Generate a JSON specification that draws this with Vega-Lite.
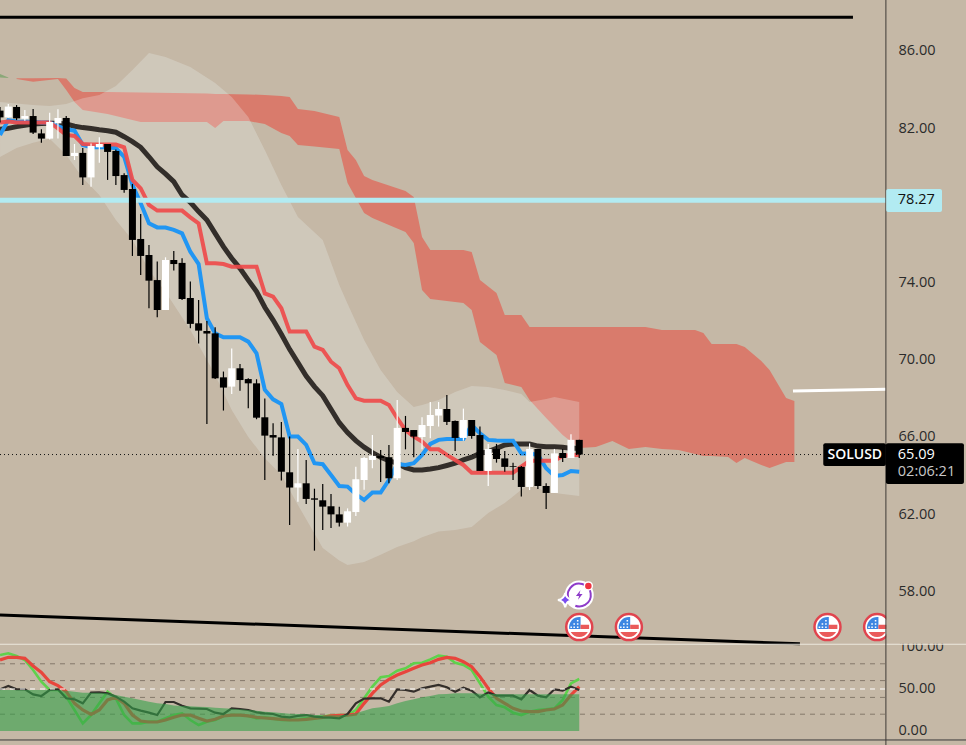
{
"$schema":"https://vega.github.io/schema/vega-lite/v6.json",
"width":966,"height":745,"padding":0,"autosize":{"type":"none"},"background":"#c5b8a6",
"config":{"view":{"stroke":null},"font":"Open Sans"},
"datasets":{
"candles":[
{"i":-1,"o":82.91,"h":83.1,"l":82.3,"c":82.56,"d":"d"},{"i":0,"o":82.56,"h":83.25,"l":82.56,"c":83.12,"d":"u"},{"i":1,"o":83.1,"h":83.2,"l":82.42,"c":82.51,"d":"d"},{"i":2,"o":82.49,"h":82.94,"l":82.39,"c":82.63,"d":"u"},{"i":3,"o":82.63,"h":83.0,"l":81.7,"c":81.77,"d":"d"},{"i":4,"o":81.73,"h":81.94,"l":81.25,"c":81.46,"d":"d"},{"i":5,"o":81.46,"h":82.8,"l":81.42,"c":82.32,"d":"u"},{"i":6,"o":82.25,"h":82.98,"l":81.47,"c":82.53,"d":"u"},{"i":7,"o":82.53,"h":82.63,"l":80.56,"c":80.56,"d":"d"},{"i":8,"o":80.56,"h":81.18,"l":80.35,"c":80.72,"d":"u"},{"i":9,"o":80.72,"h":80.97,"l":79.06,"c":79.45,"d":"d"},{"i":10,"o":79.45,"h":81.21,"l":78.97,"c":81.08,"d":"u"},{"i":11,"o":81.01,"h":81.53,"l":80.21,"c":81.18,"d":"u"},{"i":12,"o":81.18,"h":81.18,"l":79.32,"c":80.77,"d":"d"},{"i":13,"o":80.82,"h":80.9,"l":79.06,"c":79.52,"d":"d"},{"i":14,"o":79.57,"h":79.66,"l":78.66,"c":78.8,"d":"d"},{"i":15,"o":78.85,"h":79.11,"l":75.38,"c":76.21,"d":"d"},{"i":16,"o":76.26,"h":77.55,"l":74.39,"c":75.38,"d":"d"},{"i":17,"o":75.43,"h":75.95,"l":72.67,"c":74.1,"d":"d"},{"i":18,"o":74.13,"h":75.09,"l":72.2,"c":72.58,"d":"d"},{"i":19,"o":72.58,"h":75.31,"l":72.58,"c":75.17,"d":"u"},{"i":20,"o":75.17,"h":75.64,"l":74.62,"c":74.96,"d":"d"},{"i":21,"o":75.02,"h":75.26,"l":73.1,"c":73.15,"d":"d"},{"i":22,"o":73.2,"h":74.05,"l":71.63,"c":71.86,"d":"d"},{"i":23,"o":71.89,"h":73.1,"l":70.85,"c":71.51,"d":"d"},{"i":24,"o":71.49,"h":72.01,"l":66.67,"c":71.36,"d":"d"},{"i":25,"o":71.37,"h":71.68,"l":69.0,"c":69.04,"d":"d"},{"i":26,"o":69.09,"h":69.39,"l":67.37,"c":68.56,"d":"d"},{"i":27,"o":68.61,"h":70.59,"l":68.23,"c":69.56,"d":"u"},{"i":28,"o":69.56,"h":69.78,"l":68.4,"c":68.95,"d":"d"},{"i":29,"o":69.0,"h":69.04,"l":67.49,"c":68.78,"d":"d"},{"i":30,"o":68.78,"h":68.99,"l":66.92,"c":67.0,"d":"d"},{"i":31,"o":67.02,"h":68.0,"l":63.77,"c":66.07,"d":"d"},{"i":32,"o":66.1,"h":66.71,"l":65.03,"c":65.97,"d":"d"},{"i":33,"o":65.98,"h":66.78,"l":63.74,"c":64.2,"d":"d"},{"i":34,"o":64.17,"h":66.02,"l":61.44,"c":63.38,"d":"d"},{"i":35,"o":63.38,"h":65.38,"l":62.65,"c":63.6,"d":"u"},{"i":36,"o":63.6,"h":64.81,"l":62.53,"c":62.79,"d":"d"},{"i":37,"o":62.82,"h":63.32,"l":60.11,"c":62.75,"d":"d"},{"i":38,"o":62.72,"h":63.57,"l":61.18,"c":62.39,"d":"d"},{"i":39,"o":62.41,"h":63.05,"l":61.29,"c":61.99,"d":"d"},{"i":40,"o":61.99,"h":62.39,"l":61.36,"c":61.56,"d":"d"},{"i":41,"o":61.56,"h":62.3,"l":61.36,"c":62.15,"d":"u"},{"i":42,"o":62.11,"h":64.46,"l":61.91,"c":63.81,"d":"u"},{"i":43,"o":63.77,"h":64.98,"l":63.26,"c":64.91,"d":"u"},{"i":44,"o":64.81,"h":66.1,"l":64.38,"c":65.02,"d":"u"},{"i":45,"o":65.02,"h":65.33,"l":63.67,"c":64.91,"d":"d"},{"i":46,"o":64.95,"h":65.59,"l":63.6,"c":63.86,"d":"d"},{"i":47,"o":63.86,"h":67.92,"l":63.77,"c":66.47,"d":"u"},{"i":48,"o":66.47,"h":67.09,"l":65.36,"c":66.26,"d":"d"},{"i":49,"o":66.36,"h":66.36,"l":64.95,"c":66.02,"d":"d"},{"i":50,"o":66.0,"h":67.02,"l":65.36,"c":66.62,"d":"u"},{"i":51,"o":66.57,"h":67.81,"l":65.93,"c":67.14,"d":"u"},{"i":52,"o":67.11,"h":67.81,"l":66.54,"c":67.45,"d":"u"},{"i":53,"o":67.45,"h":68.18,"l":66.62,"c":66.78,"d":"d"},{"i":54,"o":66.83,"h":66.85,"l":65.27,"c":65.95,"d":"d"},{"i":55,"o":65.95,"h":67.47,"l":65.81,"c":66.88,"d":"u"},{"i":56,"o":66.88,"h":66.88,"l":65.91,"c":66.05,"d":"d"},{"i":57,"o":66.1,"h":66.54,"l":64.24,"c":64.24,"d":"d"},{"i":58,"o":64.24,"h":65.64,"l":63.46,"c":65.38,"d":"u"},{"i":59,"o":65.38,"h":65.64,"l":64.67,"c":64.86,"d":"d"},{"i":60,"o":64.89,"h":65.27,"l":64.2,"c":64.45,"d":"d"},{"i":61,"o":64.48,"h":64.67,"l":63.77,"c":64.45,"d":"d"},{"i":62,"o":64.45,"h":64.5,"l":62.91,"c":63.41,"d":"d"},{"i":63,"o":63.41,"h":65.67,"l":63.25,"c":65.38,"d":"u"},{"i":64,"o":65.38,"h":65.38,"l":63.3,"c":63.46,"d":"d"},{"i":65,"o":63.46,"h":63.6,"l":62.27,"c":63.1,"d":"d"},{"i":66,"o":63.1,"h":65.38,"l":63.1,"c":65.15,"d":"u"},{"i":67,"o":65.17,"h":65.38,"l":64.7,"c":64.91,"d":"d"},{"i":68,"o":64.91,"h":66.14,"l":64.91,"c":65.85,"d":"u"},{"i":69,"o":65.85,"h":65.85,"l":64.91,"c":65.09,"d":"d"}
],
"lines":[
{"i":-1,"t":81.65,"k":82.29,"m":81.94},{"i":0,"t":82.42,"k":82.34,"m":81.99},{"i":1,"t":82.35,"k":82.3,"m":82.08},{"i":2,"t":82.34,"k":82.3,"m":82.15},{"i":3,"t":82.34,"k":82.3,"m":82.22},{"i":4,"t":82.3,"k":82.3,"m":82.24},{"i":5,"t":82.3,"k":82.3,"m":82.25},{"i":6,"t":82.11,"k":81.99,"m":82.25},{"i":7,"t":81.94,"k":81.65,"m":82.22},{"i":8,"t":81.87,"k":81.6,"m":82.1},{"i":9,"t":81.13,"k":81.18,"m":82.03},{"i":10,"t":81.01,"k":81.15,"m":81.98},{"i":11,"t":81.01,"k":81.15,"m":81.92},{"i":12,"t":81.01,"k":81.15,"m":81.87},{"i":13,"t":80.96,"k":81.15,"m":81.79},{"i":14,"t":80.52,"k":81.01,"m":81.56},{"i":15,"t":79.06,"k":79.32,"m":81.3},{"i":16,"t":78.11,"k":78.88,"m":81.01},{"i":17,"t":77.07,"k":78.02,"m":80.52},{"i":18,"t":76.86,"k":77.73,"m":80.0},{"i":19,"t":76.85,"k":77.73,"m":79.63},{"i":20,"t":76.73,"k":77.73,"m":79.23},{"i":21,"t":76.55,"k":77.73,"m":78.54},{"i":22,"t":75.6,"k":77.38,"m":78.16},{"i":23,"t":74.96,"k":77.07,"m":77.68},{"i":24,"t":72.15,"k":75.0,"m":77.24},{"i":25,"t":71.37,"k":75.0,"m":76.55},{"i":26,"t":71.17,"k":74.96,"m":75.86},{"i":27,"t":71.17,"k":74.82,"m":75.26},{"i":28,"t":71.17,"k":74.82,"m":74.74},{"i":29,"t":70.94,"k":74.82,"m":74.13},{"i":30,"t":70.34,"k":74.82,"m":73.53},{"i":31,"t":68.44,"k":73.44,"m":72.72},{"i":32,"t":67.95,"k":73.27,"m":72.06},{"i":33,"t":67.71,"k":72.67,"m":71.32},{"i":34,"t":66.02,"k":71.46,"m":70.54},{"i":35,"t":66.02,"k":71.46,"m":69.85},{"i":36,"t":65.59,"k":71.46,"m":69.16},{"i":37,"t":64.64,"k":70.68,"m":68.61},{"i":38,"t":64.59,"k":70.51,"m":68.14},{"i":39,"t":64.03,"k":69.9,"m":67.44},{"i":40,"t":63.46,"k":69.56,"m":66.74},{"i":41,"t":63.43,"k":68.69,"m":66.23},{"i":42,"t":63.03,"k":68.0,"m":65.81},{"i":43,"t":62.74,"k":67.88,"m":65.47},{"i":44,"t":63.12,"k":67.88,"m":65.19},{"i":45,"t":63.12,"k":67.88,"m":64.95},{"i":46,"t":63.77,"k":67.66,"m":64.77},{"i":47,"t":64.6,"k":66.97,"m":64.64},{"i":48,"t":64.55,"k":66.36,"m":64.41},{"i":49,"t":64.64,"k":66.02,"m":64.29},{"i":50,"t":65.07,"k":65.76,"m":64.29},{"i":51,"t":65.64,"k":65.36,"m":64.34},{"i":52,"t":65.85,"k":65.36,"m":64.41},{"i":53,"t":65.9,"k":65.07,"m":64.52},{"i":54,"t":65.9,"k":64.81,"m":64.64},{"i":55,"t":65.9,"k":64.55,"m":64.81},{"i":56,"t":66.62,"k":64.15,"m":64.95},{"i":57,"t":66.19,"k":64.15,"m":65.15},{"i":58,"t":65.85,"k":64.15,"m":65.24},{"i":59,"t":65.82,"k":64.15,"m":65.41},{"i":60,"t":65.81,"k":64.15,"m":65.59},{"i":61,"t":65.81,"k":64.15,"m":65.64},{"i":62,"t":65.15,"k":64.46,"m":65.64},{"i":63,"t":65.15,"k":64.77,"m":65.64},{"i":64,"t":65.07,"k":64.77,"m":65.53},{"i":65,"t":64.38,"k":64.77,"m":65.5},{"i":66,"t":63.98,"k":64.77,"m":65.5},{"i":67,"t":64.03,"k":65.02,"m":65.47},{"i":68,"t":64.24,"k":65.07,"m":65.41},{"i":69,"t":64.2,"k":65.07,"m":65.41}
],
"band":[
{"i":-1,"u":83.36,"b":80.51},{"i":1,"u":83.28,"b":80.97},{"i":3,"u":83.2,"b":81.25},{"i":5,"u":83.15,"b":81.45},{"i":7,"u":83.25,"b":80.61},{"i":9,"u":83.55,"b":79.42},{"i":11,"u":83.72,"b":78.54},{"i":13,"u":84.19,"b":77.24},{"i":15,"u":85.02,"b":76.21},{"i":17,"u":85.9,"b":74.65},{"i":19,"u":85.69,"b":73.51},{"i":22,"u":85.17,"b":71.54},{"i":25,"u":84.34,"b":69.21},{"i":27,"u":83.62,"b":67.4},{"i":29,"u":82.58,"b":66.0},{"i":31,"u":80.87,"b":64.9},{"i":33,"u":79.06,"b":64.03},{"i":35,"u":77.4,"b":62.48},{"i":38,"u":76.21,"b":60.25},{"i":40,"u":73.88,"b":59.6},{"i":41,"u":72.9,"b":59.37},{"i":43,"u":71.03,"b":59.52},{"i":45,"u":69.47,"b":59.9},{"i":47,"u":68.33,"b":60.3},{"i":49,"u":67.55,"b":60.6},{"i":50,"u":67.66,"b":60.8},{"i":52,"u":67.92,"b":61.1},{"i":54,"u":68.33,"b":61.18},{"i":56,"u":68.64,"b":61.34},{"i":58,"u":68.59,"b":62.06},{"i":60,"u":68.44,"b":62.58},{"i":62,"u":68.23,"b":63.26},{"i":63,"u":67.81,"b":63.52},{"i":65,"u":67.97,"b":63.15},{"i":66,"u":68.07,"b":63.1},{"i":69,"u":67.81,"b":62.94}
],
"cloud":[
{"i":1,"a":84.59,"b":84.55},{"i":3,"a":84.59,"b":84.41},{"i":6,"a":84.6,"b":84.55},{"i":7,"a":84.57,"b":83.98},{"i":8,"a":84.08,"b":83.36},{"i":9,"a":83.88,"b":82.94},{"i":12,"a":83.88,"b":82.73},{"i":16,"a":83.85,"b":82.32},{"i":20,"a":83.82,"b":82.32},{"i":24,"a":83.8,"b":82.32},{"i":25,"a":83.77,"b":82.01},{"i":26,"a":83.77,"b":82.37},{"i":29,"a":83.75,"b":82.37},{"i":31,"a":83.72,"b":82.22},{"i":33,"a":83.67,"b":81.75},{"i":34,"a":83.62,"b":81.6},{"i":35,"a":83.0,"b":81.13},{"i":37,"a":82.89,"b":81.05},{"i":40,"a":82.58,"b":80.92},{"i":41,"a":80.87,"b":79.16},{"i":42,"a":80.35,"b":78.38},{"i":43,"a":79.52,"b":77.61},{"i":44,"a":79.32,"b":77.35},{"i":48,"a":78.75,"b":76.62},{"i":49,"a":78.44,"b":76.05},{"i":50,"a":76.36,"b":73.62},{"i":51,"a":75.69,"b":73.15},{"i":55,"a":75.69,"b":72.94},{"i":56,"a":75.59,"b":72.58},{"i":57,"a":74.13,"b":70.92},{"i":59,"a":73.46,"b":70.25},{"i":60,"a":72.32,"b":68.8},{"i":62,"a":72.32,"b":68.59},{"i":63,"a":71.7,"b":67.92},{"i":65,"a":71.7,"b":66.98},{"i":67,"a":71.7,"b":66.1},{"i":69,"a":71.7,"b":65.43},{"i":71,"a":71.7,"b":65.48},{"i":73,"a":71.7,"b":65.79},{"i":75,"a":71.7,"b":65.38},{"i":77,"a":71.7,"b":65.48},{"i":79,"a":71.54,"b":65.38},{"i":81,"a":71.54,"b":65.33},{"i":83,"a":71.54,"b":65.12},{"i":84,"a":71.39,"b":65.02},{"i":85,"a":70.82,"b":65.02},{"i":87,"a":70.82,"b":64.96},{"i":88,"a":70.82,"b":64.65},{"i":89,"a":70.66,"b":64.91},{"i":91,"a":69.94,"b":64.55},{"i":92,"a":69.47,"b":64.39},{"i":94,"a":68.02,"b":64.71},{"i":95,"a":67.87,"b":64.71}
],
"greencloud":[{"i":-1,"a":84.81,"b":84.62},{"i":0,"a":84.62,"b":84.6}],
"trend":[{"i":-1.003,"p":87.75,"s":"top"},{"i":102.08,"p":87.75,"s":"top"},{"i":-1.003,"p":56.78,"s":"low"},{"i":95.67,"p":55.28,"s":"low"}],
"whiteline":[{"i":94.83,"p":68.38},{"i":106.06,"p":68.47}],
"osc":[
{"i":-1,"r":49.6,"k":90.5,"d":84.5,"m":48.8},{"i":0,"r":53.6,"k":92.5,"d":87.7,"m":48.8},{"i":1,"r":49.6,"k":89.3,"d":87.7,"m":48.8},{"i":2,"r":49.6,"k":84.5,"d":86.5,"m":48.8},{"i":3,"r":43.6,"k":72.6,"d":77.4,"m":48.8},{"i":4,"r":41.7,"k":58.7,"d":69.8,"m":48.8},{"i":5,"r":48.8,"k":48.8,"d":58.7,"m":48.8},{"i":6,"r":49.6,"k":48.8,"d":54,"m":48.8},{"i":7,"r":38.9,"k":40.9,"d":46.8,"m":48},{"i":8,"r":37.7,"k":25,"d":32.9,"m":46.8},{"i":9,"r":32.9,"k":9.1,"d":25,"m":45.6},{"i":10,"r":45.6,"k":19,"d":19.8,"m":45.6},{"i":11,"r":46,"k":32.9,"d":25,"m":45.6},{"i":12,"r":44.8,"k":46.8,"d":36.9,"m":44.8},{"i":13,"r":40.9,"k":38.9,"d":40.1,"m":42.9},{"i":14,"r":34.9,"k":19,"d":32.9,"m":40.9},{"i":15,"r":27,"k":9.1,"d":19,"m":38.9},{"i":16,"r":24.2,"k":9.1,"d":11.9,"m":36.9},{"i":17,"r":21.8,"k":11.1,"d":10.7,"m":34.9},{"i":18,"r":19,"k":11.1,"d":10.7,"m":32.9},{"i":19,"r":34.5,"k":15.1,"d":13.1,"m":32.1},{"i":20,"r":34.5,"k":19,"d":16.3,"m":30.5},{"i":21,"r":30.1,"k":21,"d":19,"m":29.8},{"i":22,"r":27,"k":13.1,"d":19,"m":29.4},{"i":23,"r":26.6,"k":7.1,"d":15.1,"m":29},{"i":24,"r":26.2,"k":11.1,"d":11.9,"m":28.6},{"i":25,"r":21.8,"k":13.1,"d":13.9,"m":27.8},{"i":26,"r":20.2,"k":17.9,"d":17.9,"m":27},{"i":27,"r":27,"k":19,"d":19,"m":26.6},{"i":28,"r":26.2,"k":19,"d":19,"m":25.8},{"i":29,"r":25,"k":17.9,"d":17.9,"m":25},{"i":30,"r":22.2,"k":15.1,"d":16.3,"m":24.2},{"i":31,"r":21,"k":16.3,"d":15.5,"m":23},{"i":32,"r":20.2,"k":14.7,"d":14.7,"m":22.2},{"i":33,"r":17.1,"k":13.1,"d":13.9,"m":21.4},{"i":34,"r":16.3,"k":13.1,"d":13.1,"m":20.6},{"i":35,"r":17.9,"k":13.9,"d":13.1,"m":20.2},{"i":36,"r":19,"k":15.1,"d":13.9,"m":20.2},{"i":37,"r":17.1,"k":16.3,"d":15.1,"m":19},{"i":38,"r":16.3,"k":17.1,"d":16.3,"m":18.7},{"i":39,"r":15.9,"k":18.7,"d":17.9,"m":18.7},{"i":40,"r":15.1,"k":19,"d":18.7,"m":18.7},{"i":41,"r":20.2,"k":19,"d":19,"m":19.4},{"i":42,"r":32.9,"k":25,"d":20.2,"m":21},{"i":43,"r":38.5,"k":38.9,"d":32.9,"m":24.2},{"i":44,"r":38.9,"k":52.8,"d":44.8,"m":27},{"i":45,"r":38.9,"k":63.9,"d":54.8,"m":28.2},{"i":46,"r":34.9,"k":65.5,"d":61.5,"m":29.8},{"i":47,"r":49.6,"k":71.8,"d":66.7,"m":32.9},{"i":48,"r":48.8,"k":74.6,"d":70.6,"m":35.7},{"i":49,"r":46.8,"k":80.6,"d":74.6,"m":37.7},{"i":50,"r":50.8,"k":81.3,"d":78.6,"m":40.1},{"i":51,"r":52.8,"k":85.3,"d":81.3,"m":41.7},{"i":52,"r":54.8,"k":89.7,"d":85.3,"m":43.6},{"i":53,"r":52,"k":88.5,"d":87.7,"m":44},{"i":54,"r":46.8,"k":81.3,"d":86.5,"m":44.8},{"i":55,"r":51.6,"k":78.6,"d":82.5,"m":44.8},{"i":56,"r":48,"k":72.6,"d":76.6,"m":44.8},{"i":57,"r":40.1,"k":56.7,"d":64.7,"m":44.4},{"i":58,"r":46,"k":40.9,"d":50.8,"m":44},{"i":59,"r":42.1,"k":30.9,"d":38.9,"m":44},{"i":60,"r":42.1,"k":28.2,"d":32.9,"m":43.6},{"i":61,"r":42.1,"k":21.8,"d":27,"m":43.6},{"i":62,"r":37.7,"k":19,"d":23.8,"m":43.6},{"i":63,"r":48.8,"k":23,"d":23,"m":43.6},{"i":64,"r":42.1,"k":25,"d":23,"m":43.6},{"i":65,"r":40.1,"k":25.8,"d":25,"m":43.6},{"i":66,"r":49.6,"k":27,"d":26.2,"m":43.6},{"i":67,"r":48,"k":36.9,"d":30.9,"m":43.6},{"i":68,"r":52.8,"k":56.7,"d":42.9,"m":43.6},{"i":69,"r":48.8,"k":61.9,"d":52.8,"m":43.6}
],
"flags":[{"i":69,"p":56.15},{"i":75,"p":56.15},{"i":99,"p":56.15},{"i":105,"p":56.15}]
},
"encoding":{"x":{"field":"i","type":"quantitative","scale":{"domain":[-1.003,115.74],"nice":false,"zero":false,"padding":0},"axis":null}},
"layer":[
{"data":{"values":[{"i":0,"v":0}]},"mark":{"type":"point","opacity":0},"encoding":{"y":{"field":"v","type":"quantitative","scale":{"domain":[50.04,88.642],"nice":false,"zero":false},"axis":{"orient":"right","offset":-80,"values":[86,82,74,70,66,62,58],"format":".2f","title":null,"grid":false,"ticks":false,"domain":false,"labelPadding":12,"labelFontSize":14.5,"labelFont":"Open Sans","labelColor":"#2b2b2b","labelOverlap":false,"labelBound":false,"labelFlush":false}}}},
{"data":{"values":[{"i":0,"v":0}]},"mark":{"type":"point","opacity":0},"encoding":{"y":{"field":"v","type":"quantitative","scale":{"domain":[-16.67,870.2],"nice":false,"zero":false},"axis":{"orient":"right","offset":-80,"values":[100,50,0],"format":".2f","title":null,"grid":false,"ticks":false,"domain":false,"labelPadding":12,"labelFontSize":14.5,"labelFont":"Open Sans","labelColor":"#2b2b2b","labelOverlap":false,"labelBound":false,"labelFlush":false}}}},
{"data":{"name":"greencloud"},"mark":{"type":"area","color":"#8aa878"},"encoding":{"y":{"field":"a","type":"quantitative","scale":{"domain":[50.04,88.642],"nice":false,"zero":false},"axis":null},"y2":{"field":"b"}}},
{"data":{"name":"cloud"},"mark":{"type":"area","color":"#d97b6c"},"encoding":{"y":{"field":"a","type":"quantitative","scale":{"domain":[50.04,88.642],"nice":false,"zero":false},"axis":null},"y2":{"field":"b"}}},
{"data":{"name":"band"},"mark":{"type":"area","color":"#eef8f8","opacity":0.25},"encoding":{"y":{"field":"u","type":"quantitative","scale":{"domain":[50.04,88.642],"nice":false,"zero":false},"axis":null},"y2":{"field":"b"}}},
{"data":{"name":"lines"},"mark":{"type":"line","color":"#2a2622","strokeWidth":5,"opacity":0.95},"encoding":{"y":{"field":"m","type":"quantitative","scale":{"domain":[50.04,88.642],"nice":false,"zero":false},"axis":null}}},
{"data":{"name":"lines"},"mark":{"type":"line","color":"#2196f3","strokeWidth":4},"encoding":{"y":{"field":"t","type":"quantitative","scale":{"domain":[50.04,88.642],"nice":false,"zero":false},"axis":null}}},
{"data":{"name":"lines"},"mark":{"type":"line","color":"#ef4b4b","strokeWidth":4,"opacity":0.92},"encoding":{"y":{"field":"k","type":"quantitative","scale":{"domain":[50.04,88.642],"nice":false,"zero":false},"axis":null}}},
{"data":{"values":[{"i":-1.003,"i2":106.06,"p":78.27}]},"mark":{"type":"rule","color":"#b2ebf2","strokeWidth":5},"encoding":{"x2":{"field":"i2"},"y":{"field":"p","type":"quantitative","scale":{"domain":[50.04,88.642],"nice":false,"zero":false},"axis":null}}},
{"data":{"values":[{"i":-1.003,"i2":98.49,"p":65.09}]},"mark":{"type":"rule","color":"#111111","strokeWidth":1,"strokeDash":[1,3]},"encoding":{"x2":{"field":"i2"},"y":{"field":"p","type":"quantitative","scale":{"domain":[50.04,88.642],"nice":false,"zero":false},"axis":null}}},
{"data":{"name":"candles"},"mark":{"type":"rule","strokeWidth":1.2},"encoding":{"y":{"field":"h","type":"quantitative","scale":{"domain":[50.04,88.642],"nice":false,"zero":false},"axis":null},"y2":{"field":"l"},"color":{"field":"d","type":"nominal","scale":{"domain":["u","d"],"range":["#ffffff","#000000"]},"legend":null}}},
{"data":{"name":"candles"},"mark":{"type":"bar","orient":"vertical","width":7},"encoding":{"y":{"field":"o","type":"quantitative","scale":{"domain":[50.04,88.642],"nice":false,"zero":false},"axis":null},"y2":{"field":"c"},"color":{"field":"d","type":"nominal","scale":{"domain":["u","d"],"range":["#ffffff","#000000"]},"legend":null}}},
{"data":{"name":"trend"},"mark":{"type":"line","color":"#000000","strokeWidth":3},"encoding":{"detail":{"field":"s"},"y":{"field":"p","type":"quantitative","scale":{"domain":[50.04,88.642],"nice":false,"zero":false},"axis":null}}},
{"data":{"name":"whiteline"},"mark":{"type":"line","color":"#ffffff","strokeWidth":3},"encoding":{"y":{"field":"p","type":"quantitative","scale":{"domain":[50.04,88.642],"nice":false,"zero":false},"axis":null}}},
{"data":{"values":[{"i":-1.003,"i2":106.06,"v":80},{"i":-1.003,"i2":106.06,"v":60},{"i":-1.003,"i2":106.06,"v":40},{"i":-1.003,"i2":106.06,"v":20}]},"mark":{"type":"rule","color":"#85796b","strokeWidth":1,"strokeDash":[5,5]},"encoding":{"x2":{"field":"i2"},"y":{"field":"v","type":"quantitative","scale":{"domain":[-16.67,870.2],"nice":false,"zero":false},"axis":null}}},
{"data":{"name":"osc"},"mark":{"type":"line","color":"#5fd24c","strokeWidth":2.6},"encoding":{"y":{"field":"k","type":"quantitative","scale":{"domain":[-16.67,870.2],"nice":false,"zero":false},"axis":null}}},
{"data":{"name":"osc"},"mark":{"type":"line","color":"#e8453c","strokeWidth":3.2},"encoding":{"y":{"field":"d","type":"quantitative","scale":{"domain":[-16.67,870.2],"nice":false,"zero":false},"axis":null}}},
{"data":{"name":"osc"},"mark":{"type":"line","color":"#332e2a","strokeWidth":2.2},"encoding":{"y":{"field":"r","type":"quantitative","scale":{"domain":[-16.67,870.2],"nice":false,"zero":false},"axis":null}}},
{"data":{"name":"osc"},"mark":{"type":"area","color":"#34a049","opacity":0.6},"encoding":{"y":{"field":"m","type":"quantitative","scale":{"domain":[-16.67,870.2],"nice":false,"zero":false},"axis":null},"y2":{"datum":0}}},
{"data":{"values":[{"i":-1.003,"i2":106.06,"v":50}]},"mark":{"type":"rule","color":"#ffffff","strokeWidth":1,"strokeDash":[5,5]},"encoding":{"x2":{"field":"i2"},"y":{"field":"v","type":"quantitative","scale":{"domain":[-16.67,870.2],"nice":false,"zero":false},"axis":null}}},
{"data":{"name":"flags"},"mark":{"type":"point","shape":"circle","filled":true,"fill":"#ffffff","stroke":"#e0444e","strokeWidth":2.5,"opacity":1,"size":676},"encoding":{"y":{"field":"p","type":"quantitative","scale":{"domain":[50.04,88.642],"nice":false,"zero":false},"axis":null}}},
{"data":{"name":"flags"},"mark":{"type":"point","shape":"M0.1,-0.77 L0.1,0.15 L-0.77,0.15 A0.78,0.78 0 0 1 0.1,-0.77 Z","filled":true,"fill":"#3d86e2","strokeWidth":0,"opacity":1,"size":676},"encoding":{"y":{"field":"p","type":"quantitative","scale":{"domain":[50.04,88.642],"nice":false,"zero":false},"axis":null}}},
{"data":{"name":"flags"},"mark":{"type":"point","shape":"M0.1,-0.18 L0.76,-0.18 L0.76,0.15 L0.1,0.15 Z M-0.66,0.38 L0.66,0.38 A0.76,0.76 0 0 1 -0.66,0.38 Z","filled":true,"fill":"#ea5a5a","strokeWidth":0,"opacity":1,"size":676},"encoding":{"y":{"field":"p","type":"quantitative","scale":{"domain":[50.04,88.642],"nice":false,"zero":false},"axis":null}}},
{"data":{"name":"flags"},"mark":{"type":"point","shape":"M-0.45,-0.3h0.12v0.12h-0.12z M-0.18,-0.3h0.12v0.12h-0.12z M-0.18,-0.55h0.12v0.12h-0.12z M-0.45,-0.05h0.12v0.12h-0.12z M-0.18,-0.05h0.12v0.12h-0.12z M-0.68,-0.05h0.12v0.12h-0.12z","filled":true,"fill":"#ffffff","strokeWidth":0,"opacity":1,"size":676},"encoding":{"y":{"field":"p","type":"quantitative","scale":{"domain":[50.04,88.642],"nice":false,"zero":false},"axis":null}}},
{"data":{"values":[{"i":69,"p":57.81}]},"mark":{"type":"point","shape":"circle","filled":true,"fill":"#ffffff","opacity":1,"size":840,"strokeWidth":0},"encoding":{"y":{"field":"p","type":"quantitative","scale":{"domain":[50.04,88.642],"nice":false,"zero":false},"axis":null}}},
{"data":{"values":[{"i":69,"p":57.81}]},"mark":{"type":"point","shape":"M-0.75,0.45 A0.88,0.88 0 1 1 0.45,0.76 A0.88,0.88 0 0 1 -0.3,0.82","filled":false,"fill":"transparent","stroke":"#8e3bc9","strokeWidth":2,"opacity":1,"size":676},"encoding":{"y":{"field":"p","type":"quantitative","scale":{"domain":[50.04,88.642],"nice":false,"zero":false},"axis":null}}},
{"data":{"values":[{"i":69,"p":57.81}]},"mark":{"type":"point","shape":"M0.25,-1 L-0.7,0.2 L-0.05,0.2 L-0.25,1 L0.7,-0.2 L0.05,-0.2 Z","filled":true,"fill":"#8e3bc9","strokeWidth":0,"opacity":1,"size":90},"encoding":{"y":{"field":"p","type":"quantitative","scale":{"domain":[50.04,88.642],"nice":false,"zero":false},"axis":null}}},
{"data":{"values":[{"i":67.3,"p":57.55}]},"mark":{"type":"point","shape":"M0,-1 Q0.15,-0.15 1,0 Q0.15,0.15 0,1 Q-0.15,0.15 -1,0 Q-0.15,-0.15 0,-1 Z","filled":true,"fill":"#7a4df0","stroke":"#ffffff","strokeWidth":2,"opacity":1,"size":210},"encoding":{"y":{"field":"p","type":"quantitative","scale":{"domain":[50.04,88.642],"nice":false,"zero":false},"axis":null}}},
{"data":{"values":[{"i":70.1,"p":58.28}]},"mark":{"type":"point","shape":"circle","filled":true,"fill":"#ef3340","stroke":"#ffffff","strokeWidth":1.5,"opacity":1,"size":64},"encoding":{"y":{"field":"p","type":"quantitative","scale":{"domain":[50.04,88.642],"nice":false,"zero":false},"axis":null}}},
{"data":{"values":[{"i":106.1,"i2":115.74,"p":57.04,"p2":55.28}]},"mark":{"type":"rect","color":"#c5b8a6"},"encoding":{"x2":{"field":"i2"},"y":{"field":"p","type":"quantitative","scale":{"domain":[50.04,88.642],"nice":false,"zero":false},"axis":null},"y2":{"field":"p2"}}},
{"data":{"values":[{"i":-1.003,"i2":115.74,"p":55.26}]},"mark":{"type":"rule","color":"#ece7dd","strokeWidth":1},"encoding":{"x2":{"field":"i2"},"y":{"field":"p","type":"quantitative","scale":{"domain":[50.04,88.642],"nice":false,"zero":false},"axis":null}}},
{"data":{"values":[{"i":-1.003,"i2":115.74,"p":50.3}]},"mark":{"type":"rule","color":"#3a3a3a","strokeWidth":1},"encoding":{"x2":{"field":"i2"},"y":{"field":"p","type":"quantitative","scale":{"domain":[50.04,88.642],"nice":false,"zero":false},"axis":null}}},
{"data":{"values":[{"i":106.06,"p":50.04,"p2":88.642}]},"mark":{"type":"rule","color":"#3f3a36","strokeWidth":1},"encoding":{"y":{"field":"p","type":"quantitative","scale":{"domain":[50.04,88.642],"nice":false,"zero":false},"axis":null},"y2":{"field":"p2"}}},
{"data":{"values":[{"i":106.1,"i2":112.84,"p":78.85,"p2":77.66,"f":"c"},{"i":98.49,"i2":106.06,"p":65.67,"p2":64.5,"f":"k"},{"i":106.06,"i2":115.49,"p":65.67,"p2":63.57,"f":"k"}]},"mark":{"type":"rect","cornerRadius":2},"encoding":{"x2":{"field":"i2"},"y":{"field":"p","type":"quantitative","scale":{"domain":[50.04,88.642],"nice":false,"zero":false},"axis":null},"y2":{"field":"p2"},"color":{"field":"f","type":"nominal","scale":{"domain":["c","k"],"range":["#b2ebf2","#000000"]},"legend":null}}},
{"data":{"values":[{"i":107.5,"p":78.27,"t":"78.27","f":"a"},{"i":107.5,"p":65.09,"t":"65.09","f":"b"},{"i":107.5,"p":64.2,"t":"02:06:21","f":"g"}]},"mark":{"type":"text","align":"left","baseline":"middle","font":"Open Sans","fontSize":14.5},"encoding":{"y":{"field":"p","type":"quantitative","scale":{"domain":[50.04,88.642],"nice":false,"zero":false},"axis":null},"text":{"field":"t"},"color":{"field":"f","type":"nominal","scale":{"domain":["a","b","g"],"range":["#111111","#ffffff","#c8c8c8"]},"legend":null}}},
{"data":{"values":[{"i":102.3,"p":65.09,"t":"SOLUSD"}]},"mark":{"type":"text","align":"center","baseline":"middle","font":"Open Sans","fontSize":14,"fontWeight":600,"color":"#ffffff"},"encoding":{"y":{"field":"p","type":"quantitative","scale":{"domain":[50.04,88.642],"nice":false,"zero":false},"axis":null},"text":{"field":"t"}}}
],
"resolve":{"scale":{"y":"independent","color":"independent"}}
}
